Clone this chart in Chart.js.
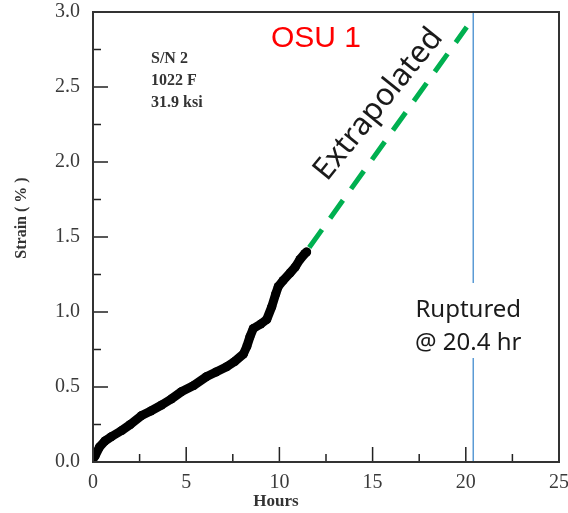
<!DOCTYPE html>
<html>
<head>
<meta charset="utf-8">
<script src="https://cdn.jsdelivr.net/npm/chart.js@4"></script>
<style>
  html, body { margin: 0; padding: 0; background: #fff; }
  #wrap { width: 568px; height: 513px; }
</style>
</head>
<body>
<div id="wrap"><canvas id="creep" width="568" height="513"></canvas></div>
<script>
// measured creep curve
const hours = [0, 0.11, 0.35, 0.64, 1.0, 1.54, 2.0, 2.61, 3.1, 3.68, 4.2, 4.76, 5.4, 6.1, 6.6,
  7.17, 7.6, 8.07, 8.25, 8.42, 8.6, 9.0, 9.32, 9.59, 9.8, 9.94, 10.2, 10.57, 10.85, 11.1, 11.37, 11.46];
const strain = [0.02, 0.04, 0.10, 0.14, 0.17, 0.21, 0.25, 0.31, 0.34, 0.38, 0.42, 0.47, 0.51, 0.57, 0.60,
  0.635, 0.67, 0.72, 0.77, 0.835, 0.89, 0.92, 0.95, 1.035, 1.12, 1.17, 1.21, 1.26, 1.30, 1.35, 1.39, 1.40];

// extrapolation up to rupture
const extrapHours = [11.6, 20.05];
const extrapStrain = [1.43, 2.90];

const ruptureHour = 20.4;
const xTickValues = [0, 5, 10, 15, 20, 25];
const yTickValues = [0, 0.5, 1.0, 1.5, 2.0, 2.5, 3.0];
const specimenInfo = ["S/N 2", "1022 F", "31.9 ksi"];

const toPoints = (xs, ys) => xs.map((x, i) => ({ x: x, y: ys[i] }));

// inward ticks, frame and annotations
const decorations = {
  id: "decorations",
  afterDatasetsDraw(chart) {
    const { ctx, chartArea: a, scales: { x, y } } = chart;
    ctx.save();

    // text box that interrupts the rupture line
    const rx = x.getPixelForValue(ruptureHour);
    ctx.fillStyle = "#fff";
    ctx.fillRect(rx - 64, 283, 124, 75);

    ctx.strokeStyle = "#222";
    ctx.lineWidth = 1.5;
    ctx.beginPath();
    xTickValues.forEach((v, i) => {
      const px = x.getPixelForValue(v);
      ctx.moveTo(px, a.bottom); ctx.lineTo(px, a.bottom - 15);
      if (i < xTickValues.length - 1) {
        const mx = x.getPixelForValue(v + 2.5);
        ctx.moveTo(mx, a.bottom); ctx.lineTo(mx, a.bottom - 8);
      }
    });
    yTickValues.forEach((v, i) => {
      const py = y.getPixelForValue(v);
      ctx.moveTo(a.left, py); ctx.lineTo(a.left + 15, py);
      if (i < yTickValues.length - 1) {
        const my = y.getPixelForValue(v + 0.25);
        ctx.moveTo(a.left, my); ctx.lineTo(a.left + 8, my);
      }
    });
    ctx.stroke();

    ctx.lineWidth = 2;
    ctx.strokeStyle = "#333";
    ctx.strokeRect(a.left, a.top, a.right - a.left, a.bottom - a.top);

    // axis titles
    ctx.fillStyle = "#333";
    ctx.font = "bold 17px 'Liberation Serif'";
    ctx.textAlign = "center";
    ctx.textBaseline = "alphabetic";
    ctx.fillText("Hours", 276, 506);
    ctx.save();
    ctx.translate(26, 218);
    ctx.rotate(-Math.PI / 2);
    ctx.font = "bold 16px 'Liberation Serif'";
    ctx.fillText("Strain ( % )", 0, 0);
    ctx.restore();

    // specimen block
    ctx.textAlign = "left";
    ctx.font = "bold 16px 'Liberation Serif'";
    specimenInfo.forEach((t, i) => ctx.fillText(t, 151, 63 + i * 22));

    ctx.fillStyle = "#ff0000";
    ctx.font = "30px 'Liberation Sans'";
    ctx.fillText("OSU 1", 271, 47);

    ctx.fillStyle = "#1a1a1a";
    ctx.font = "24px 'Noto Sans'";
    ctx.textAlign = "center";
    ctx.fillText("Ruptured", rx - 5, 317);
    ctx.fillText("@ " + ruptureHour + " hr", rx - 5, 350);

    ctx.save();
    ctx.translate(327, 182);
    ctx.rotate(-51 * Math.PI / 180);
    ctx.textAlign = "left";
    ctx.font = "31px 'Noto Sans'";
    ctx.fillText("Extrapolated", 0, 0);
    ctx.restore();

    ctx.restore();
  }
};

new Chart(document.getElementById("creep"), {
  type: "scatter",
  data: {
    datasets: [
      {
        label: "Rupture",
        data: [{ x: ruptureHour, y: 0 }, { x: ruptureHour, y: 3 }],
        showLine: true,
        borderColor: "#5b9bd5",
        borderWidth: 1.5,
        pointRadius: 0
      },
      {
        label: "Extrapolated",
        data: toPoints(extrapHours, extrapStrain),
        showLine: true,
        borderColor: "#00b050",
        borderWidth: 5,
        borderDash: [22, 14],
        pointRadius: 0
      },
      {
        label: "Measured",
        data: toPoints(hours, strain),
        showLine: true,
        borderColor: "#000",
        backgroundColor: "#000",
        borderWidth: 9,
        borderJoinStyle: "round",
        borderCapStyle: "round",
        pointRadius: 4.5,
        pointBorderWidth: 0
      }
    ]
  },
  options: {
    responsive: false,
    animation: false,
    devicePixelRatio: 1,
    layout: { padding: { top: 12, right: 9, left: 0, bottom: 0 } },
    plugins: { legend: { display: false }, tooltip: { enabled: false } },
    scales: {
      x: {
        type: "linear",
        min: 0,
        max: 25,
        afterBuildTicks: s => { s.ticks = xTickValues.map(v => ({ value: v })); },
        afterFit: s => { s.height = 51; s.paddingLeft = 0; s.paddingRight = 0; },
        grid: { display: false, drawTicks: false },
        border: { display: false },
        ticks: {
          padding: 9,
          color: "#3a3a3a",
          font: { family: "'Liberation Serif'", size: 20 }
        }
      },
      y: {
        type: "linear",
        min: 0,
        max: 3,
        afterBuildTicks: s => { s.ticks = yTickValues.map(v => ({ value: v })); },
        afterFit: s => { s.width = 93; s.paddingTop = 0; s.paddingBottom = 0; },
        grid: { display: false, drawTicks: false },
        border: { display: false },
        ticks: {
          padding: 13,
          color: "#3a3a3a",
          font: { family: "'Liberation Serif'", size: 20 },
          callback: v => v.toFixed(1)
        }
      }
    }
  },
  plugins: [decorations]
});
</script>
</body>
</html>
